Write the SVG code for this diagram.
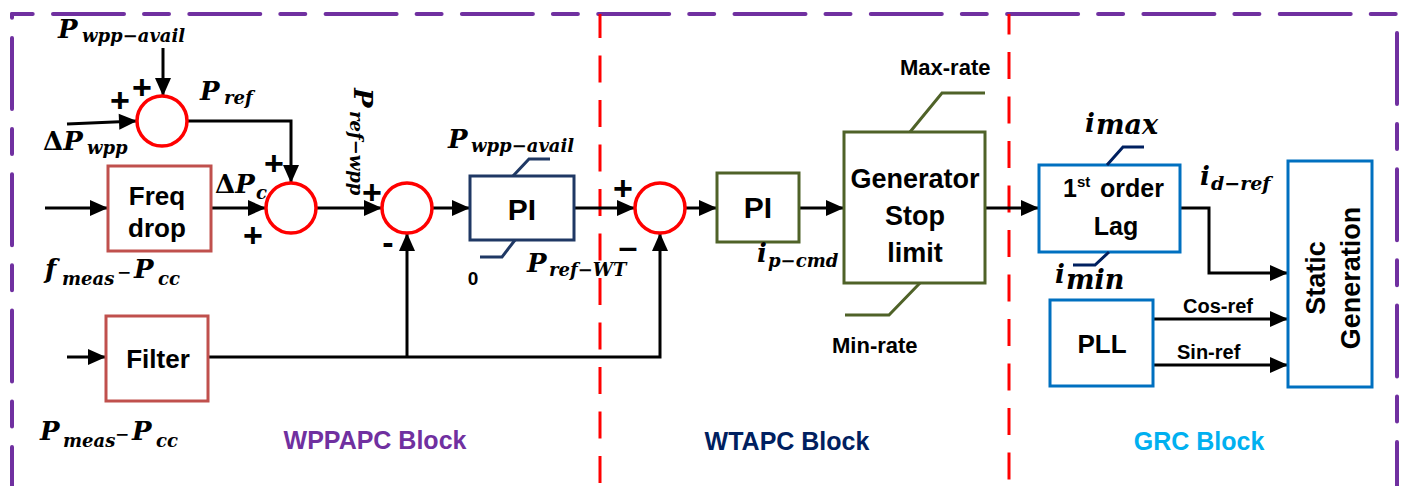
<svg xmlns="http://www.w3.org/2000/svg" width="1402" height="486" viewBox="0 0 1402 486">
<style>
.frame{fill:none;stroke:#7030A0;stroke-width:4;stroke-linecap:round;stroke-dasharray:71 20 25 20.3}
.sep{fill:none;stroke:#FF0000;stroke-width:3;stroke-dasharray:27 17.5}
.sum{fill:#fff;stroke:#FF0000;stroke-width:3.5}
.red{fill:#fff;stroke:#C0504D;stroke-width:3}
.navy{fill:#fff;stroke:#1F3864;stroke-width:3}
.olive{fill:#fff;stroke:#4F6228;stroke-width:3}
.blue{fill:#fff;stroke:#0070C0;stroke-width:3}
.lim-navy{fill:none;stroke:#1F3864;stroke-width:3}
.lim-dark{fill:none;stroke:#002060;stroke-width:3}
.lim-olive{fill:none;stroke:#4F6228;stroke-width:3}
.wire{fill:none;stroke:#000;stroke-width:3}
.arr{marker-end:url(#ah)}
.t{font-family:"Liberation Sans",Arial,sans-serif;font-weight:bold;fill:#000}
.m{font-family:"DejaVu Serif","Liberation Serif",serif;font-weight:bold;font-style:italic;font-size:26px;fill:#000}
.s{font-size:18px}
.u{font-style:normal}
.sign{font-family:"Liberation Sans",Arial,sans-serif;font-weight:bold;font-size:34px;fill:#000;text-anchor:middle}
</style>
<defs>
<marker id="ah" markerUnits="userSpaceOnUse" markerWidth="20" markerHeight="20" refX="18" refY="8" orient="auto" overflow="visible">
<path d="M0,0 L18,8 L0,16 z" fill="#000"/>
</marker>
</defs>
<rect width="1402" height="486" fill="#fff"/>

<g id="frame">
<line class="frame" x1="12" y1="14" x2="1398" y2="14" stroke-dashoffset="95.3"/>
<line class="frame" x1="12" y1="14" x2="12" y2="486" stroke-dashoffset="112.3"/>
<line class="frame" x1="1397" y1="14" x2="1397" y2="486" stroke-dashoffset="117.3"/>
<line class="sep" x1="600" y1="14" x2="600" y2="486" stroke-dashoffset="3"/>
<line class="sep" x1="1009" y1="14" x2="1009" y2="486" stroke-dashoffset="6.5"/>
</g>

<g id="connectors">
<line class="wire arr" x1="163" y1="48" x2="163" y2="96"/>
<line class="wire arr" x1="67" y1="124" x2="137" y2="121"/>
<path class="wire arr" d="M187,121 H291 V183"/>
<line class="wire arr" x1="45" y1="208" x2="108" y2="208"/>
<line class="wire arr" x1="211" y1="208" x2="266" y2="208"/>
<line class="wire arr" x1="316" y1="208" x2="382" y2="208"/>
<line class="wire arr" x1="432" y1="208" x2="470" y2="208"/>
<line class="wire arr" x1="574" y1="208" x2="635" y2="208"/>
<line class="wire arr" x1="685" y1="208" x2="717" y2="208"/>
<line class="wire arr" x1="799" y1="208" x2="844" y2="208"/>
<line class="wire arr" x1="985" y1="208" x2="1039" y2="208"/>
<path class="wire arr" d="M1180,208 H1209 V273 H1288"/>
<line class="wire arr" x1="67" y1="357" x2="106" y2="357"/>
<path class="wire arr" d="M208,357 H660 V233"/>
<line class="wire arr" x1="407" y1="357" x2="407" y2="233"/>
<line class="wire arr" x1="1153" y1="319" x2="1288" y2="319"/>
<line class="wire arr" x1="1153" y1="365" x2="1288" y2="365"/>
</g>

<g id="sum1">
<circle class="sum" cx="162" cy="121" r="25"/>
<text class="sign" x="142" y="99">+</text>
<text class="sign" x="120" y="112">+</text>
</g>
<g id="sum2">
<circle class="sum" cx="291" cy="208" r="25"/>
<text class="sign" x="274" y="175">+</text>
<text class="sign" x="253" y="247">+</text>
</g>
<g id="sum3">
<circle class="sum" cx="407" cy="208" r="25"/>
<text class="sign" x="372" y="204">+</text>
<text class="sign" x="388" y="254" font-size="40">-</text>
</g>
<g id="sum4">
<circle class="sum" cx="660" cy="208" r="25"/>
<text class="sign" x="623" y="200">+</text>
<text class="sign" x="628" y="258" font-size="54">–</text>
</g>

<g id="freq-drop">
<rect class="red" x="108" y="166" width="103" height="85"/>
<text class="t" x="157" y="205" font-size="26" text-anchor="middle">Freq</text>
<text class="t" x="157" y="237" font-size="26" text-anchor="middle">drop</text>
</g>
<g id="filter">
<rect class="red" x="106" y="316" width="102" height="85"/>
<text class="t" x="158" y="368" font-size="26" text-anchor="middle">Filter</text>
</g>
<g id="pi1">
<rect class="navy" x="470" y="176" width="104" height="64"/>
<path class="lim-navy" d="M513,176 L529,159 H550"/>
<path class="lim-navy" d="M515,240 L502,257 H480"/>
<text class="t" x="522" y="220" font-size="30" text-anchor="middle">PI</text>
</g>
<g id="pi2">
<rect class="olive" x="717" y="173" width="82" height="69"/>
<text class="t" x="758" y="218" font-size="30" text-anchor="middle">PI</text>
</g>
<g id="gen-stop-limit">
<rect class="olive" x="844" y="132" width="141" height="151"/>
<path class="lim-olive" d="M910,132 L942,93 H985"/>
<path class="lim-olive" d="M920,283 L889,315 H845"/>
<text class="t" x="915" y="188" font-size="27" text-anchor="middle">Generator</text>
<text class="t" x="915" y="225" font-size="27" text-anchor="middle">Stop</text>
<text class="t" x="915" y="262" font-size="27" text-anchor="middle">limit</text>
</g>
<g id="lag">
<rect class="blue" x="1039" y="165" width="141" height="87"/>
<path class="lim-dark" d="M1107,165 L1123,147 H1144"/>
<path class="lim-dark" d="M1109,252 L1095,265 H1073"/>
<text class="t" x="1063" y="197" font-size="25">1<tspan font-size="15" dy="-10">st</tspan><tspan x="1100" dy="10">order</tspan></text>
<text class="t" x="1116" y="235" font-size="25" text-anchor="middle">Lag</text>
</g>
<g id="pll">
<rect class="blue" x="1050" y="300" width="103" height="86"/>
<text class="t" x="1102" y="353" font-size="26" text-anchor="middle">PLL</text>
</g>
<g id="static-generation">
<rect class="blue" x="1288" y="161" width="84" height="226"/>
<text class="t" font-size="27" text-anchor="middle" transform="translate(1325,278) rotate(-90)">Static</text>
<text class="t" font-size="27" text-anchor="middle" transform="translate(1360,278) rotate(-90)">Generation</text>
</g>

<g id="labels">
<text class="m" x="58" y="38">P<tspan class="s" x="82" y="42">wpp−avail</tspan></text>
<text class="m" x="43" y="150"><tspan class="u">Δ</tspan>P<tspan class="s" x="87" y="154">wpp</tspan></text>
<text class="m" x="200" y="100">P<tspan class="s" x="224" y="104">ref</tspan></text>
<text class="m" x="215" y="193"><tspan class="u">Δ</tspan>P<tspan class="s" x="256" y="199">c</tspan></text>
<text class="m" transform="translate(354,88) rotate(90)">P<tspan class="s" x="23" y="4">ref−wpp</tspan></text>
<text class="m" x="448" y="148">P<tspan class="s" x="471" y="152">wpp−avail</tspan></text>
<text class="t" x="473" y="285" font-size="19" text-anchor="middle">0</text>
<text class="m" x="527" y="272">P<tspan class="s" x="549" y="276">ref−WT</tspan></text>
<text class="m" x="757" y="262">i<tspan class="s" x="768" y="267">p−cmd</tspan></text>
<text class="t" x="900" y="75" font-size="22">Max-rate</text>
<text class="t" x="832" y="353" font-size="22">Min-rate</text>
<text class="m" x="1085" y="132" font-size="34">i<tspan x="1096" y="134" font-size="27">max</tspan></text>
<text class="m" x="1055" y="283" font-size="34">i<tspan x="1066" y="289" font-size="27">min</tspan></text>
<text class="m" x="1200" y="185" font-size="27">i<tspan x="1211" y="190" font-size="19">d−ref</tspan></text>
<text class="t" x="1183" y="313" font-size="20">Cos-ref</text>
<text class="t" x="1177" y="359" font-size="20">Sin-ref</text>
<text class="m" x="45" y="278">f<tspan class="s" x="62" y="285">meas</tspan><tspan class="u" x="117" y="278" font-size="17">−</tspan><tspan x="134" y="278">P</tspan><tspan class="s" x="158" y="285">cc</tspan></text>
<text class="m" x="40" y="440">P<tspan class="s" x="63" y="447">meas</tspan><tspan class="u" x="115" y="440" font-size="17">−</tspan><tspan x="132" y="440">P</tspan><tspan class="s" x="156" y="447">cc</tspan></text>
<text class="t" x="375" y="449" font-size="25" text-anchor="middle" style="fill:#7030A0">WPPAPC Block</text>
<text class="t" x="787" y="450" font-size="25" text-anchor="middle" style="fill:#002060">WTAPC Block</text>
<text class="t" x="1199" y="450" font-size="25" text-anchor="middle" style="fill:#00B0F0">GRC Block</text>
</g>
</svg>
